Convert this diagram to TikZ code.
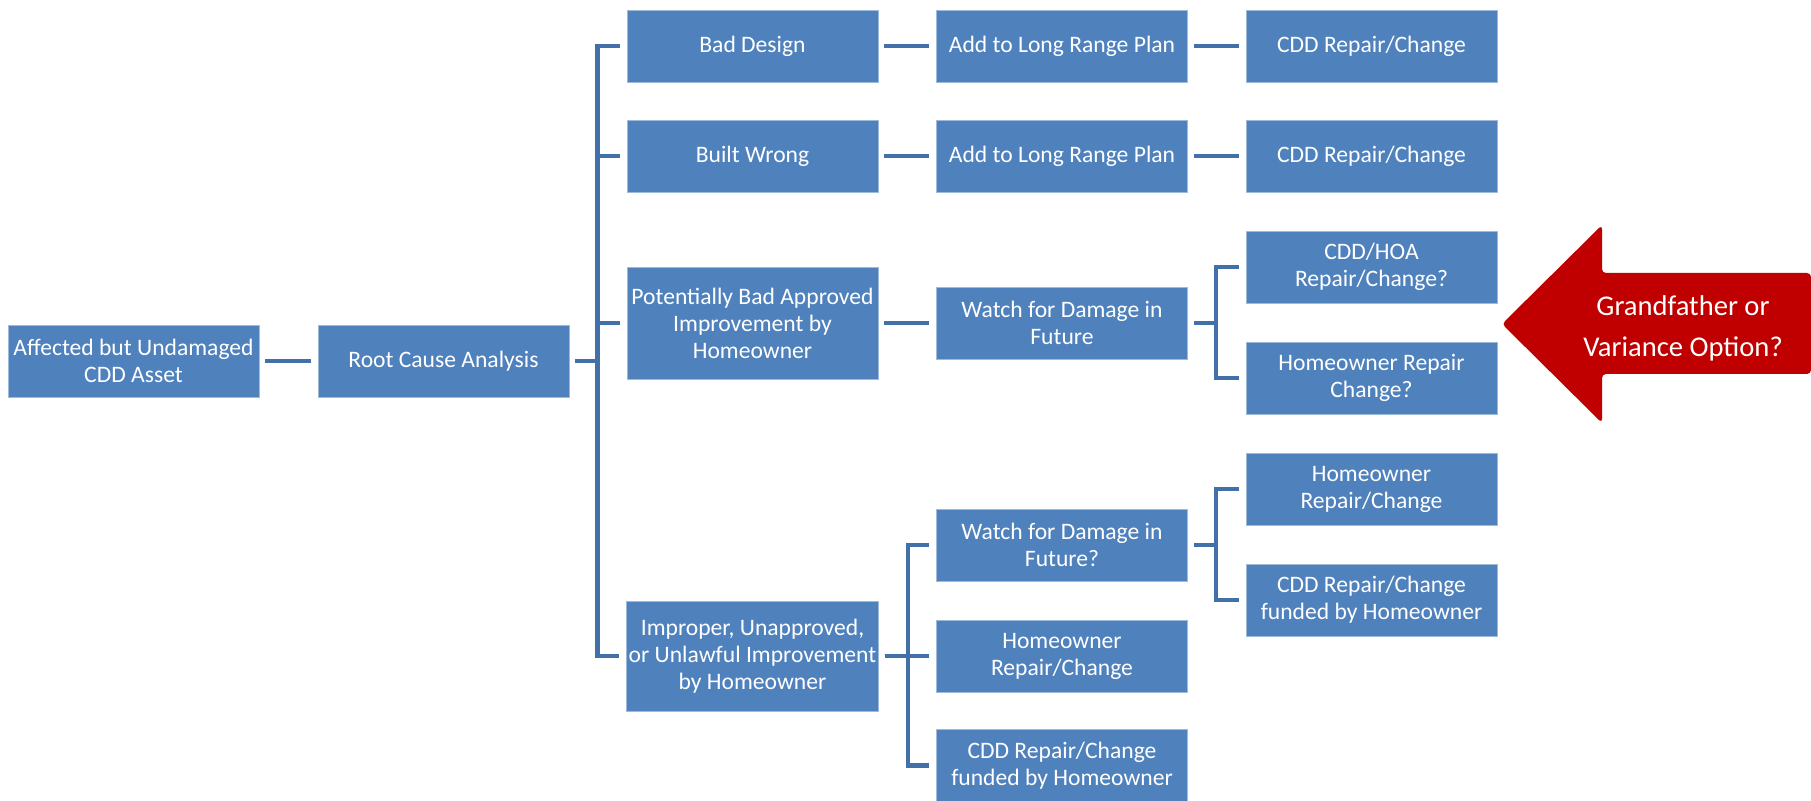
\documentclass[tikz,border=0pt]{standalone}
\usepackage{fontspec}
\setmainfont{Carlito}
\usetikzlibrary{calc}
\definecolor{boxblue}{RGB}{79,129,189}
\definecolor{linkblue}{RGB}{65,113,168}
\definecolor{arrowred}{RGB}{192,0,0}
\tikzset{
  box/.style={fill=boxblue, draw=boxblue!55!white, line width=0.4pt, text=white,
    align=center, minimum width=125.5pt, minimum height=36pt, inner sep=1pt,
    font=\fontsize{11.8}{13.5}\selectfont},
  tallbox/.style={box, minimum height=56pt},
  link/.style={linkblue, line width=2.2pt, shorten <=3pt, shorten >=3.5pt},
}

\begin{document}
\begin{tikzpicture}[x=0.5pt,y=-0.5pt]
  \useasboundingbox (0,0) rectangle (1811,801);
  % first column
  \node[box] (asset) at (133.5,361) {Affected but Undamaged\\CDD Asset};
  \node[box] (root) at (443.5,361) {Root Cause Analysis};
  % causes
  \node[box] (bad) at (752.5,46) {Bad Design};
  \node[box] (built) at (752.5,156) {Built Wrong};
  \node[tallbox] (approved) at (752.5,323) {Potentially Bad Approved\\Improvement by\\Homeowner};
  \node[tallbox, minimum height=55pt] (improper) at (752.5,656) {Improper, Unapproved,\\or Unlawful Improvement\\by Homeowner};
  % actions
  \node[box] (plana) at (1062,46) {Add to Long Range Plan};
  \node[box] (planb) at (1062,156) {Add to Long Range Plan};
  \node[box] (watch) at (1062,323) {Watch for Damage in\\Future};
  \node[box] (watchq) at (1062,545) {Watch for Damage in\\Future?};
  \node[box] (hochange) at (1062,656) {Homeowner\\Repair/Change};
  \node[box] (cddfund) at (1062,765.5) {CDD Repair/Change\\funded by Homeowner};
  % outcomes
  \node[box] (cdda) at (1371.5,46) {CDD Repair/Change};
  \node[box] (cddb) at (1371.5,156) {CDD Repair/Change};
  \node[box] (hoa) at (1371.5,267) {CDD/HOA\\Repair/Change?};
  \node[box] (horepair) at (1371.5,378) {Homeowner Repair\\Change?};
  \node[box] (hochangeb) at (1371.5,489) {Homeowner\\Repair/Change};
  \node[box] (cddfundb) at (1371.5,600) {CDD Repair/Change\\funded by Homeowner};

  \draw[link] (asset.east) -- (root.west);
  \foreach \n in {bad,built,approved,improper}
    \draw[link] (root.east) -- ++(28,0) |- (\n.west);
  \draw[link] (bad.east) -- (plana.west);
  \draw[link] (plana.east) -- (cdda.west);
  \draw[link] (built.east) -- (planb.west);
  \draw[link] (planb.east) -- (cddb.west);
  \draw[link] (approved.east) -- (watch.west);
  \foreach \n in {hoa,horepair}
    \draw[link] (watch.east) -- ++(28,0) |- (\n.west);
  \foreach \n in {watchq,hochange,cddfund}
    \draw[link] (improper.east) -- ++(29,0) |- (\n.west);
  \foreach \n in {hochangeb,cddfundb}
    \draw[link] (watchq.east) -- ++(28,0) |- (\n.west);

  \fill[arrowred, rounded corners=2pt] (1502,324) -- (1602,225) -- (1602,273)
    -- (1811,273) -- (1811,374) -- (1602,374) -- (1602,423) -- cycle;
  \node[text=white, align=center, font=\fontsize{14.3}{20.5}\selectfont] (option) at (1683,328)
    {Grandfather or\\Variance Option?};
\end{tikzpicture}
\end{document}
